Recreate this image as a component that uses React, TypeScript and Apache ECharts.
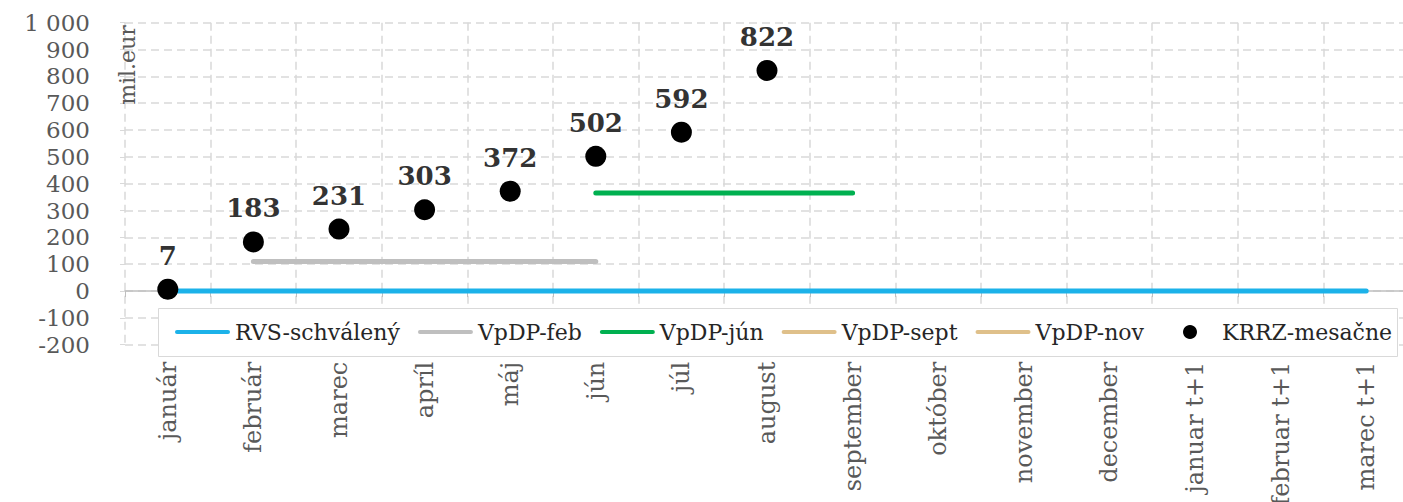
import React, { useEffect, useRef } from "react";
import * as echarts from "echarts";

const categories = [
  "január", "február", "marec", "apríl", "máj", "jún", "júl", "august",
  "september", "október", "november", "december", "januar t+1", "februar t+1", "marec t+1",
];
const rvsSchvaleny = [0, 0, 0, 0, 0, 0, 0, 0, 0, 0, 0, 0, 0, 0, 0];
const vpdpFeb = [null, 110, 110, 110, 110, 110, null, null, null, null, null, null, null, null, null];
const vpdpJun = [null, null, null, null, null, 365, 365, 365, 365, null, null, null, null, null, null];
const vpdpSept: (number | null)[] = [];
const vpdpNov: (number | null)[] = [];
const krrzMesacne = [7, 183, 231, 303, 372, 502, 592, 822, null, null, null, null, null, null, null];
const yMin = -200;
const yMax = 1000;
const yStep = 100;

const FONT = "DejaVu Serif";
const lineIcon = "path://M2,0 h51 a2,2 0 0 1 0,4 h-51 a2,2 0 0 1 0,-4z";

export default function App() {
  const ref = useRef<HTMLDivElement>(null);
  useEffect(() => {
    const chart = echarts.init(ref.current!, null, { renderer: "svg" });
    const lineSeries = (name: string, data: (number | null)[], color: string) => ({
      name,
      type: "line",
      data,
      symbol: "none",
      connectNulls: false,
      lineStyle: { color, width: 5, cap: "round" },
      itemStyle: { color },
      z: 3,
    });
    const legendText = { fontFamily: FONT, fontSize: 22, color: "#262626", lineHeight: 24 };
    chart.setOption({
      animation: false,
      grid: {
        left: 125,
        top: 22.7,
        width: 1284,
        height: 322,
        containLabel: false,
        outerBoundsMode: "none",
      },
      xAxis: [
        {
          type: "category",
          data: categories,
          boundaryGap: true,
          position: "bottom",
          axisLine: { show: false, onZero: false },
          axisTick: { show: false },
          axisLabel: {
            rotate: 90,
            interval: 0,
            margin: 17,
            fontFamily: FONT,
            fontSize: 24,
            color: "#595959",
          },
          splitLine: {
            show: true,
            interval: 0,
            lineStyle: { color: "#d9d9d9", type: [8, 5], width: 1.5 },
          },
        },
        {
          type: "category",
          data: categories,
          boundaryGap: true,
          position: "bottom",
          axisLine: { show: true, onZero: true, lineStyle: { color: "#bfbfbf", width: 1.5 } },
          axisTick: { show: true, interval: 0, length: 6, lineStyle: { color: "#bfbfbf" } },
          axisLabel: { show: false },
          splitLine: { show: false },
        },
      ],
      yAxis: {
        type: "value",
        min: yMin,
        max: yMax,
        interval: yStep,
        axisLine: { show: false },
        axisTick: { show: true, length: 5, lineStyle: { color: "#d9d9d9" } },
        axisLabel: {
          margin: 35,
          fontFamily: FONT,
          fontSize: 23,
          color: "#595959",
          formatter: (v: number) => String(v).replace(/\B(?=(\d{3})+(?!\d))/g, " "),
        },
        splitLine: { show: true, lineStyle: { color: "#d9d9d9", type: [8, 5], width: 1.5 } },
      },
      legend: [
        {
          left: 175,
          top: 320,
          padding: 0,
          itemWidth: 55,
          itemHeight: 14,
          itemGap: 18,
          textStyle: legendText,
          data: [
            { name: "RVS-schválený", icon: lineIcon },
            { name: "VpDP-feb", icon: lineIcon },
            { name: "VpDP-jún", icon: lineIcon },
            { name: "VpDP-sept", icon: lineIcon },
            { name: "VpDP-nov", icon: lineIcon },
          ],
        },
        {
          left: 1183,
          top: 320,
          padding: 0,
          itemWidth: 14,
          itemHeight: 14,
          textStyle: { ...legendText, padding: [0, 0, 0, 20] },
          data: [{ name: "KRRZ-mesačne", icon: "circle" }],
        },
      ],
      graphic: [
        {
          type: "rect",
          z: 3,
          shape: { x: 158.5, y: 308.5, width: 1239, height: 48 },
          style: { fill: "#ffffff", stroke: "#d9d9d9", lineWidth: 1 },
        },
        {
          type: "text",
          z: 5,
          x: 127,
          y: 65,
          rotation: Math.PI / 2,
          style: {
            text: "mil.eur",
            fontFamily: FONT,
            fontSize: 22,
            fill: "#595959",
            textAlign: "center",
            textVerticalAlign: "middle",
          },
        },
      ],
      series: [
        lineSeries("RVS-schválený", rvsSchvaleny, "#1cb2e9"),
        lineSeries("VpDP-feb", vpdpFeb, "#bfbfbf"),
        lineSeries("VpDP-jún", vpdpJun, "#00b050"),
        lineSeries("VpDP-sept", vpdpSept, "#dfc08a"),
        lineSeries("VpDP-nov", vpdpNov, "#dfc08a"),
        {
          name: "KRRZ-mesačne",
          type: "scatter",
          data: krrzMesacne,
          symbol: "circle",
          symbolSize: 21,
          itemStyle: { color: "#000000", opacity: 1 },
          z: 4,
          label: {
            show: true,
            position: "top",
            distance: 10,
            fontFamily: FONT,
            fontWeight: "bold",
            fontSize: 26,
            color: "#333333",
          },
        },
      ],
    });
    return () => chart.dispose();
  }, []);
  return (
    <div
      ref={ref}
      style={{ position: "absolute", left: 0, top: 0, width: 1403, height: 502, background: "#fff" }}
    />
  );
}
